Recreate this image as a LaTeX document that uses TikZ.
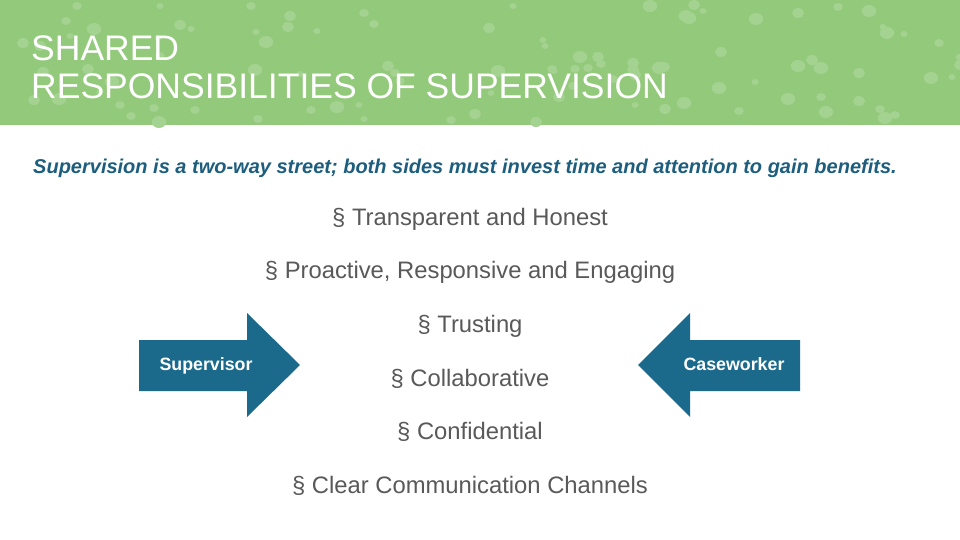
\documentclass[tikz,border=0pt]{standalone}
\usepackage{fontspec}
\setmainfont{Liberation Sans}
\definecolor{hdr}{HTML}{93C97A}
\definecolor{dot}{HTML}{A4D290}
\definecolor{teal}{HTML}{1B6A8C}
\definecolor{sub}{HTML}{1D5E7E}
\definecolor{txt}{HTML}{595959}
\begin{document}
\begin{tikzpicture}[x=1pt,y=-1pt,
  bul/.style={font=\fontsize{23.8}{28}\selectfont, text=txt, anchor=center},
  arr/.style={fill=teal, draw=none},
  lab/.style={font=\bfseries\fontsize{17.8}{21}\selectfont, text=white}]
\useasboundingbox (0,0) rectangle (960,540);
\fill[white] (0,0) rectangle (960,540);
\fill[hdr] (0,0) rectangle (960,125);
\pgfmathsetseed{7}
\foreach \i in {1,...,100}{
  \pgfmathsetmacro{\px}{random(0,960)}
  \pgfmathsetmacro{\py}{random(3,122)}
  \pgfmathsetmacro{\pr}{random(3,6)}
  \fill[dot] (\px,\py) ellipse ({\pr*1.2} and \pr);
}
\node[anchor=west, text=white, align=left, font=\fontsize{35.5}{38}\selectfont, inner sep=0] (title) at (31,67) {SHARED\\RESPONSIBILITIES OF SUPERVISION};
\node[anchor=west, text=sub, font=\bfseries\itshape\fontsize{20}{24}\selectfont, inner sep=0] (subt) at (33,168) {Supervision is a two-way street; both sides must invest time and attention to gain benefits.};
\node[bul] (b1) at (470,219) {\S\ Transparent and Honest};
\node[bul] (b2) at (470,272) {\S\ Proactive, Responsive and Engaging};
\node[bul] (b3) at (470,326) {\S\ Trusting};
\node[bul] (b4) at (470,379) {\S\ Collaborative};
\node[bul] (b5) at (470,432) {\S\ Confidential};
\node[bul] (b6) at (470,486) {\S\ Clear Communication Channels};
\fill[arr] (139,340) -- (247,340) -- (247,313) -- (300,365) -- (247,417) -- (247,391) -- (139,391) -- cycle;
\node[lab] (sup) at (206,366) {Supervisor};
\fill[arr] (800,340) -- (690,340) -- (690,313) -- (638,365) -- (690,417) -- (690,391) -- (800,391) -- cycle;
\node[lab] (cw) at (734,364) {Caseworker};
\end{tikzpicture}
\end{document}
